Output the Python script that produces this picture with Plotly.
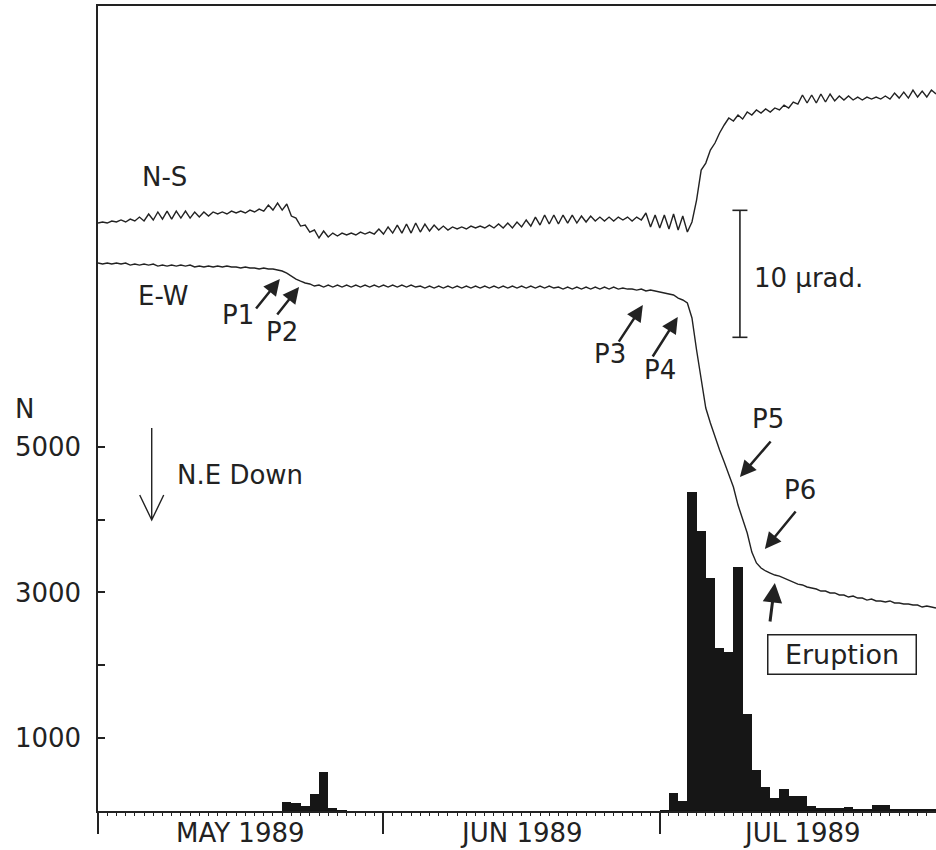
import pandas as pd
import plotly.graph_objects as go

# ---------------------------------------------------------------------------
# Daily number of earthquakes (N), 1 May - 31 July 1989
may_counts = [0, 0, 0, 0, 0, 0, 0, 0, 0, 0,
              0, 0, 0, 0, 0, 0, 0, 0, 0, 0,
              120, 115, 75, 234, 530, 37, 12, 0, 0, 0,
              0]
jun_counts = [0, 0, 0, 0, 0, 0, 0, 0, 0, 0,
              0, 0, 0, 0, 0, 0, 0, 0, 0, 0,
              0, 0, 0, 0, 0, 0, 0, 0, 0, 0]
jul_counts = [10, 243, 137, 4383, 3846, 3194, 2233, 2189, 3349, 1329,
              557, 334, 174, 305, 202, 206, 70, 40, 38, 35,
              50, 28, 26, 80, 80, 22, 25, 25, 15, 15,
              10]

# Tilt records sampled every 12 h from 1 May 1989 00:00 (micro-radians,
# change relative to the first sample)
ns_tilt = [
    0.00, 0.08, 0.00, 0.16, 0.08, 0.24, 0.08, 0.31, 0.16, 0.47,
    0.16, 0.71, 0.24, 0.87, 0.31, 0.94, 0.31, 0.94, 0.39, 0.94,
    0.39, 0.87, 0.47, 0.87, 0.55, 0.87, 0.71, 0.87, 0.71, 0.94,
    0.79, 0.94, 0.79, 1.02, 0.87, 1.10, 0.94, 1.42, 1.02, 1.57,
    1.02, 1.50, 0.55, 0.39, -0.24, -0.16, -0.71, -0.55, -1.18, -0.63,
    -1.10, -0.79, -1.02, -0.79, -0.94, -0.79, -0.94, -0.71, -0.87, -0.71,
    -0.87, -0.47, -0.87, -0.31, -0.79, -0.16, -0.79, -0.08, -0.79, 0.00,
    -0.71, -0.08, -0.63, -0.16, -0.55, -0.24, -0.55, -0.31, -0.47, -0.31,
    -0.47, -0.24, -0.39, -0.24, -0.39, -0.16, -0.39, -0.08, -0.39, 0.00,
    -0.39, 0.08, -0.31, 0.24, -0.24, 0.47, -0.16, 0.63, -0.08, 0.63,
    -0.08, 0.63, 0.00, 0.63, 0.00, 0.55, 0.08, 0.55, 0.16, 0.47,
    0.16, 0.47, 0.16, 0.47, 0.24, 0.47, 0.16, 0.47, 0.24, 0.79,
    -0.31, 0.63, -0.39, 0.63, -0.47, 0.71, -0.55, 0.55, -0.71, 0.08,
    1.81, 4.17, 4.72, 5.75, 6.30, 7.09, 7.72, 8.27, 8.03, 8.50,
    8.19, 8.74, 8.50, 8.90, 8.66, 8.98, 8.74, 9.06, 8.90, 9.29,
    9.06, 9.53, 9.37, 10.08, 9.45, 10.08, 9.45, 10.16, 9.53, 10.16,
    9.61, 10.00, 9.69, 10.00, 9.69, 9.92, 9.69, 9.92, 9.76, 9.92,
    9.76, 10.00, 9.76, 10.24, 9.84, 10.31, 9.84, 10.47, 9.92, 10.39,
    9.92, 10.47, 10.16,
]
ew_tilt = [
    0.00, -0.08, 0.00, -0.08, 0.00, -0.08, 0.00, -0.16, -0.08, -0.16,
    -0.08, -0.16, -0.08, -0.24, -0.16, -0.24, -0.16, -0.24, -0.16, -0.24,
    -0.16, -0.31, -0.24, -0.31, -0.24, -0.31, -0.24, -0.31, -0.24, -0.31,
    -0.31, -0.39, -0.31, -0.39, -0.39, -0.47, -0.39, -0.47, -0.47, -0.55,
    -0.63, -0.79, -1.02, -1.26, -1.42, -1.57, -1.65, -1.81, -1.73, -1.89,
    -1.73, -1.89, -1.73, -1.89, -1.73, -1.89, -1.73, -1.89, -1.73, -1.89,
    -1.73, -1.89, -1.73, -1.89, -1.73, -1.89, -1.73, -1.89, -1.73, -1.89,
    -1.81, -1.97, -1.81, -1.97, -1.81, -1.97, -1.81, -1.97, -1.81, -1.97,
    -1.81, -1.97, -1.81, -1.97, -1.81, -1.97, -1.81, -1.97, -1.81, -1.97,
    -1.81, -1.97, -1.81, -1.97, -1.81, -1.97, -1.81, -1.97, -1.81, -1.97,
    -1.89, -2.05, -1.89, -2.05, -1.89, -2.05, -1.89, -2.05, -1.89, -2.05,
    -1.89, -2.05, -1.89, -2.05, -1.97, -2.05, -2.05, -2.13, -2.05, -2.20,
    -2.13, -2.20, -2.28, -2.36, -2.44, -2.52, -2.76, -2.91, -3.15, -4.33,
    -6.85, -9.21, -11.42, -12.60, -13.70, -14.72, -15.67, -16.69, -17.64, -19.06,
    -20.24, -21.26, -22.76, -23.62, -24.02, -24.25, -24.41, -24.57, -24.65, -24.80,
    -24.96, -25.12, -25.28, -25.35, -25.51, -25.59, -25.67, -25.83, -25.83, -25.98,
    -25.98, -26.14, -26.14, -26.30, -26.22, -26.38, -26.38, -26.54, -26.46, -26.61,
    -26.61, -26.69, -26.61, -26.77, -26.77, -26.85, -26.85, -26.93, -26.93, -27.09,
    -27.01, -27.09, -27.17,
]

month_starts = ["1989-05-01", "1989-06-01", "1989-07-01"]
month_mids = ["1989-05-16 12:00", "1989-06-16 00:00", "1989-07-16 12:00"]
month_labels = ["MAY 1989", "JUN 1989", "JUL 1989"]
count_ticks = [1000, 2000, 3000, 4000, 5000]
count_tick_text = ["1000", "", "3000", "", "5000"]

# Marked stages on the E-W record: (label, time, tilt in micro-radians)
stage_names = ["P1", "P2", "P3", "P4", "P5", "P6"]
stage_times = ["1989-05-20 18:00", "1989-05-22 20:00", "1989-06-29 04:00",
               "1989-07-02 23:00", "1989-07-09 17:00", "1989-07-12 10:00"]
stage_tilt = [-1.26, -1.89, -3.31, -4.25, -16.85, -22.52]
eruption_time = "1989-07-13 12:00"
eruption_tilt = -25.20

scale_bar_urad = 10.0
scale_bar_time = "1989-07-09 17:00"
scale_bar_top = 1.0

# ---------------------------------------------------------------------------
INK = "#222222"
FONT = "DejaVu Sans"

counts = may_counts + jun_counts + jul_counts
days = pd.date_range("1989-05-01", periods=len(counts), freq="D")
bar_x = days + pd.Timedelta(hours=12)
tilt_t = pd.date_range("1989-05-01", periods=len(ns_tilt), freq="12h")

fig = go.Figure()
fig.add_trace(go.Bar(x=bar_x, y=counts, width=86400000,
                     marker=dict(color="#161616", line=dict(width=0)),
                     yaxis="y", hoverinfo="skip"))
fig.add_trace(go.Scatter(x=tilt_t, y=ns_tilt, mode="lines", yaxis="y2",
                         line=dict(color=INK, width=1.4)))
fig.add_trace(go.Scatter(x=tilt_t, y=ew_tilt, mode="lines", yaxis="y3",
                         line=dict(color=INK, width=1.4)))

ann = []
shapes = []

# month names centred in each month, below the axis
for t, lab in zip(month_mids, month_labels):
    ann.append(dict(x=t, y=-0.0273, xref="x", yref="paper", text=lab,
                    xanchor="center", yanchor="middle", showarrow=False,
                    font=dict(size=26, color=INK, family=FONT)))

# count axis title
ann.append(dict(x=-0.0883, y=0.4994, xref="paper", yref="paper", text="N",
                xanchor="center", yanchor="middle", showarrow=False,
                font=dict(size=26, color=INK, family=FONT)))

# component names
ann.append(dict(x="1989-05-08 04:00", y=3.62, xref="x", yref="y2", text="N-S",
                showarrow=False, font=dict(size=26, color=INK, family=FONT)))
ann.append(dict(x="1989-05-08 01:30", y=-2.6, xref="x", yref="y3", text="E-W",
                showarrow=False, font=dict(size=26, color=INK, family=FONT)))

# stage arrows and labels
arrow_offsets = [(-25, 31), (-23, 29), (-25, 38), (-26, 41), (32, -37), (32, -39)]
label_shifts = [(-42, -36), (-17, -45), (-33, -49), (-18, -53), (28, 58), (35, 59)]
for name, t, v, (ax, ay), (dx, dy) in zip(stage_names, stage_times, stage_tilt,
                                          arrow_offsets, label_shifts):
    ann.append(dict(x=t, y=v, xref="x", yref="y3", text="", showarrow=True,
                    ax=ax, ay=ay, arrowhead=2, arrowsize=1.3, arrowwidth=2.5,
                    arrowcolor=INK))
    ann.append(dict(x=t, y=v, xref="x", yref="y3", text=name, showarrow=False,
                    xshift=dx, yshift=dy,
                    font=dict(size=26, color=INK, family=FONT)))

# eruption marker
ann.append(dict(x=eruption_time, y=eruption_tilt, xref="x", yref="y3", text="",
                showarrow=True, ax=-5, ay=40, arrowhead=2, arrowsize=1.3,
                arrowwidth=3, arrowcolor=INK))
ann.append(dict(x=eruption_time, y=eruption_tilt, xref="x", yref="y3",
                text="Eruption", showarrow=False, xshift=67, yshift=-71,
                width=143, height=34, borderpad=2, bordercolor=INK,
                borderwidth=1.5, bgcolor="white",
                font=dict(size=27, color=INK, family=FONT)))

# 10 micro-radian scale bar
bar_bottom = scale_bar_top - scale_bar_urad
shapes.append(dict(type="line", xref="x", yref="y2", x0=scale_bar_time,
                   x1=scale_bar_time, y0=scale_bar_top, y1=bar_bottom,
                   line=dict(color=INK, width=1.6)))
for yv in (scale_bar_top, bar_bottom):
    shapes.append(dict(type="line", xref="x", yref="y2", xsizemode="pixel",
                       xanchor=scale_bar_time, x0=-7.5, x1=7.5, y0=yv, y1=yv,
                       line=dict(color=INK, width=1.6)))
ann.append(dict(x=scale_bar_time, y=(scale_bar_top + bar_bottom) / 2,
                xref="x", yref="y2", text="10 \u00b5rad.", showarrow=False,
                xanchor="left", xshift=12, yshift=-4,
                font=dict(size=26, color=INK, family=FONT)))

# "N.E Down" direction arrow
down_time = "1989-05-06 20:00"
shapes.append(dict(type="path", xref="x", yref="paper", xsizemode="pixel",
                   ysizemode="pixel", xanchor=down_time, yanchor=0.3615,
                   path="M0,92 L0,0 M-12,25 L0,0 L12,25",
                   line=dict(color=INK, width=1.4)))
ann.append(dict(x=down_time, y=0.4174, xref="x", yref="paper",
                text="N.E Down", showarrow=False, xanchor="left",
                yanchor="middle", xshift=23,
                font=dict(size=26, color=INK, family=FONT)))

fig.update_layout(
    width=936, height=850,
    margin=dict(l=98, r=0, t=6, b=39),
    paper_bgcolor="white", plot_bgcolor="white",
    showlegend=False, bargap=0,
    font=dict(family=FONT, color=INK),
    xaxis=dict(type="date", range=["1989-05-01", "1989-07-31"],
               tickmode="array", tickvals=month_starts, showticklabels=False,
               ticks="outside", ticklen=21, tickwidth=1.5, tickcolor=INK,
               showline=True, linewidth=1.5, linecolor=INK, mirror=True,
               showgrid=False, zeroline=False, automargin=False,
               minor=dict(tickmode="linear", tick0="1989-05-01",
                          dtick=86400000, ticks="outside", ticklen=3,
                          tickwidth=1, tickcolor=INK, showgrid=False)),
    yaxis=dict(range=[0, 11050], tickmode="array", tickvals=count_ticks,
               ticktext=count_tick_text, ticks="inside", ticklen=7,
               tickwidth=1.5, tickcolor=INK, showline=True, linewidth=1.5,
               linecolor=INK, showgrid=False, zeroline=False,
               ticklabelstandoff=10, automargin=False,
               tickfont=dict(size=26, color=INK, family=FONT)),
    yaxis2=dict(overlaying="y", range=[-46.30, 17.09], visible=False),
    yaxis3=dict(overlaying="y", range=[-43.15, 20.24], visible=False),
    annotations=ann,
    shapes=shapes,
)

fig.write_html("out.html")
